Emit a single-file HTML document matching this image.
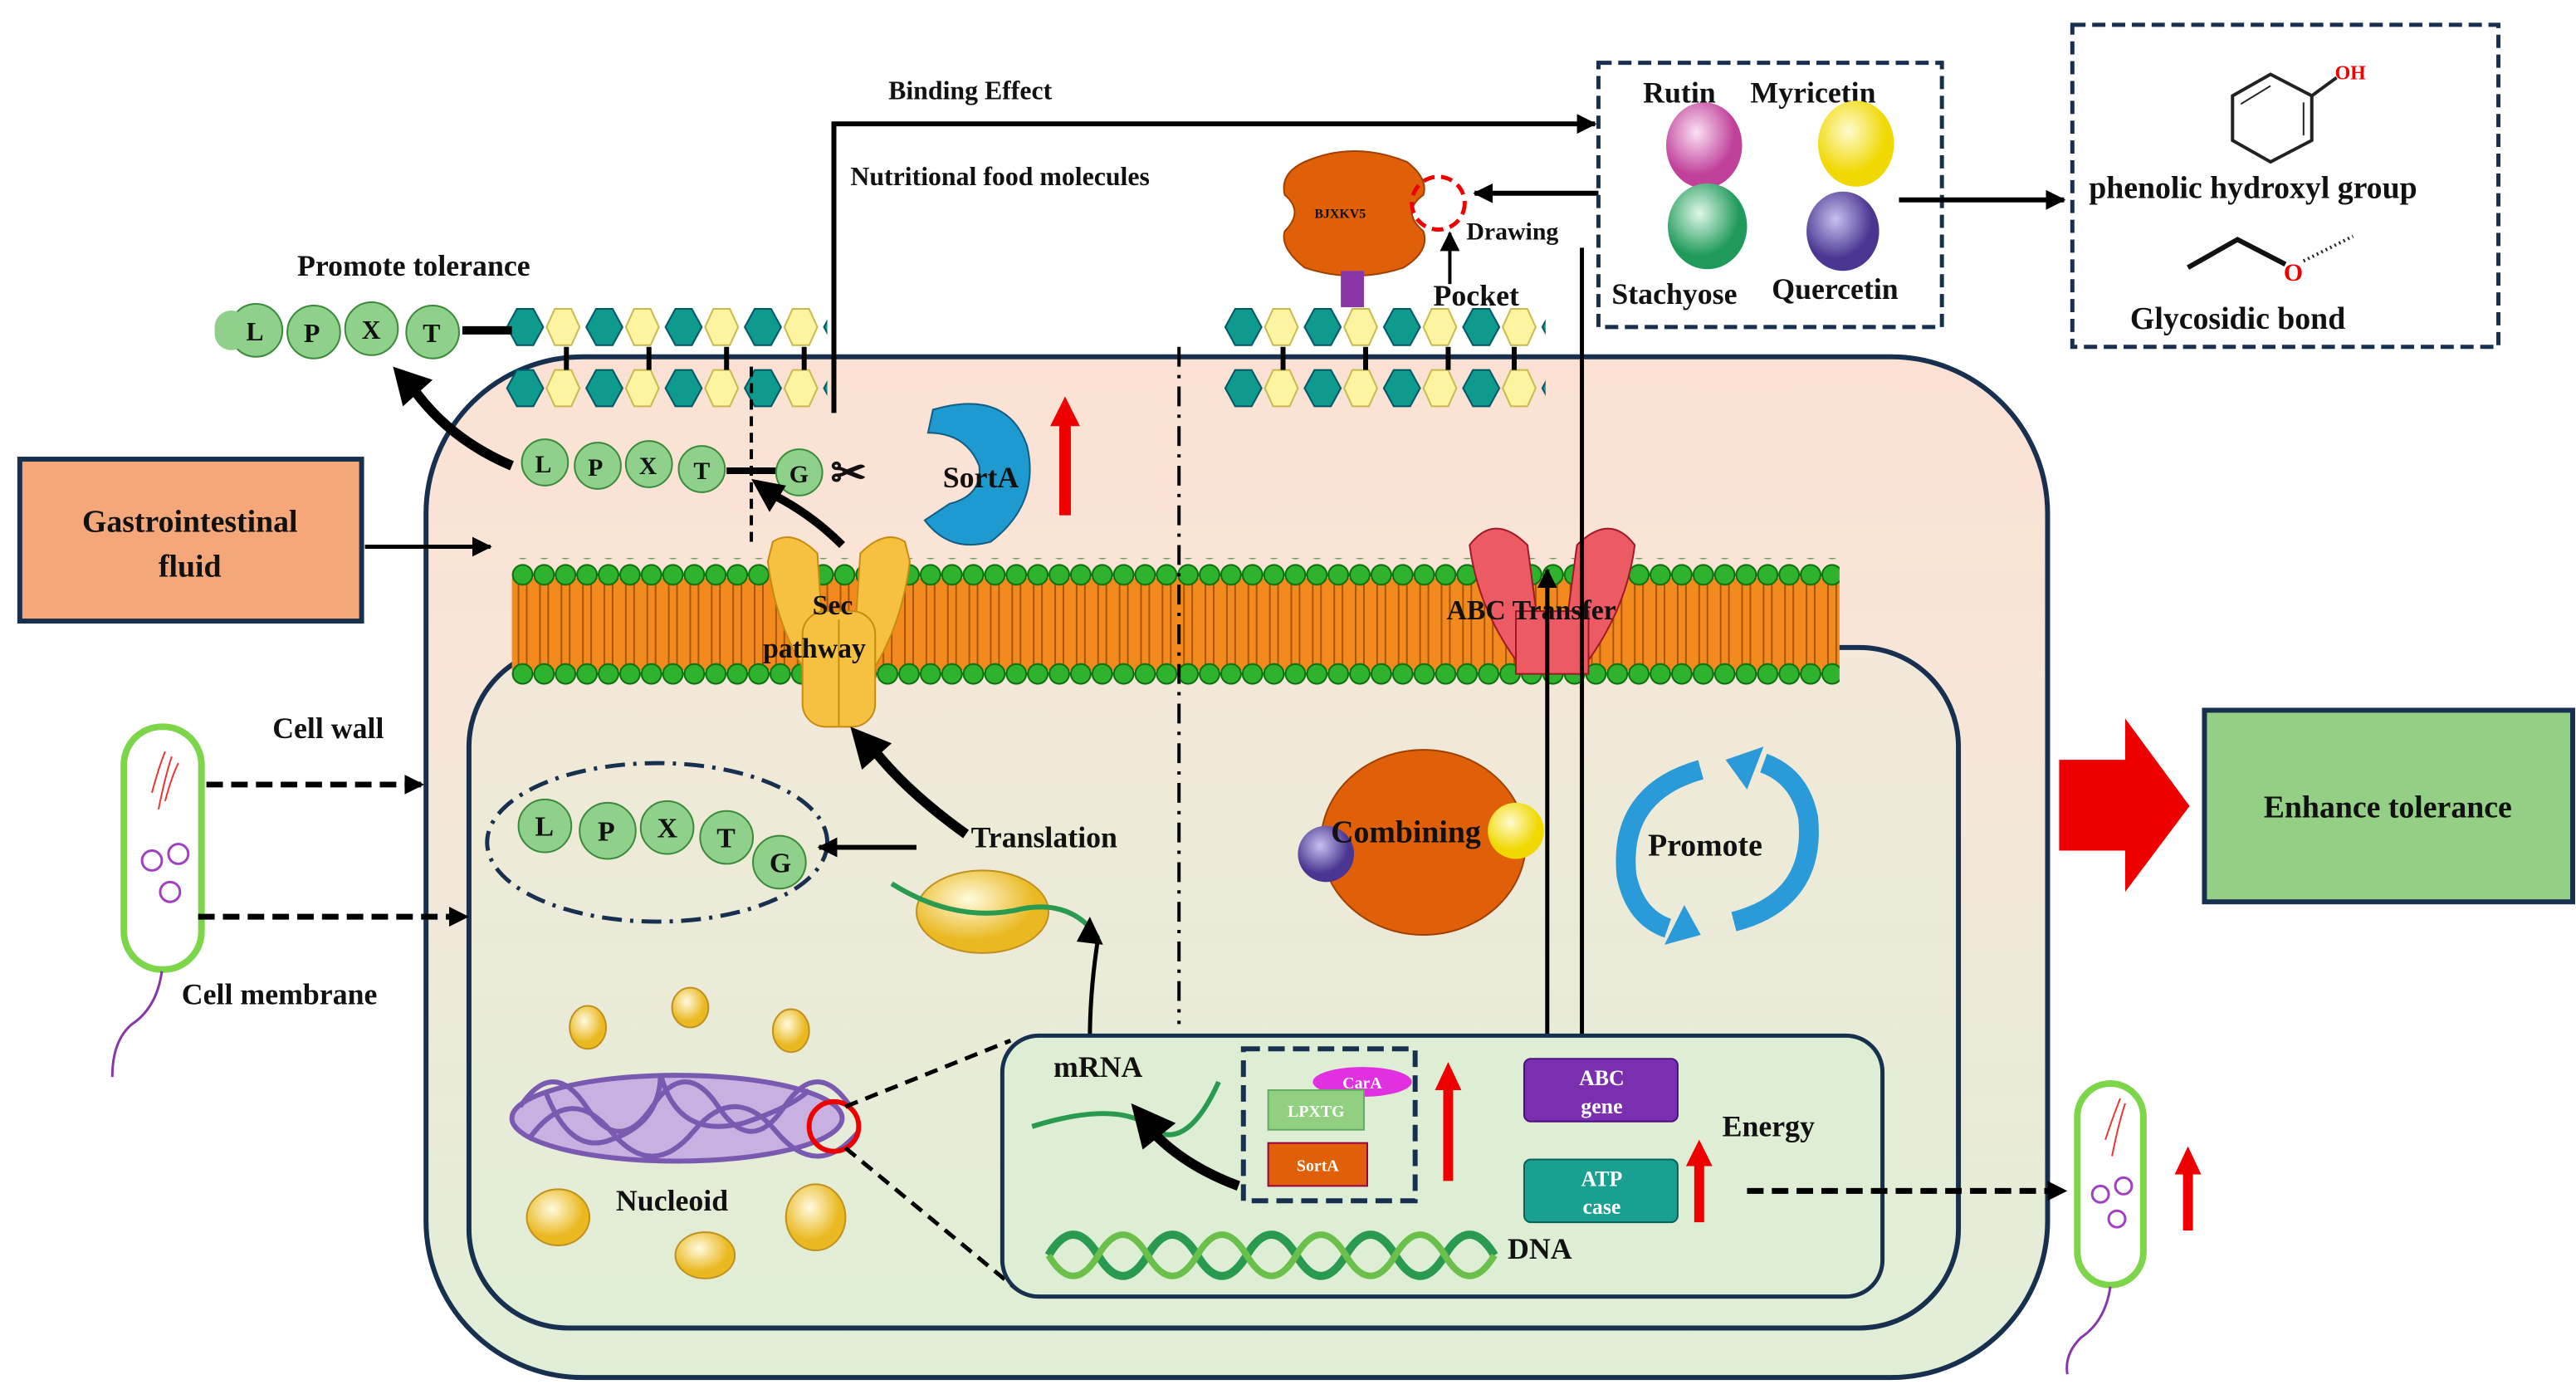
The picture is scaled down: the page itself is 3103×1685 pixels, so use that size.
<!DOCTYPE html>
<html><head><meta charset="utf-8"><style>
html,body{margin:0;padding:0;background:#fff}
svg{display:block}
text{font-family:"Liberation Serif",serif;font-weight:bold;fill:#111}
</style></head><body>
<svg width="3103" height="1685" viewBox="0 0 1560 847" preserveAspectRatio="none" xmlns="http://www.w3.org/2000/svg">
<defs>
<linearGradient id="cell" x1="0" y1="0" x2="0" y2="1">
<stop offset="0" stop-color="#fbe1d4"/><stop offset="0.35" stop-color="#f7e6d8"/><stop offset="1" stop-color="#e1eed7"/></linearGradient>
<linearGradient id="inner" x1="0" y1="0" x2="0" y2="1">
<stop offset="0" stop-color="#f3e8d9"/><stop offset="1" stop-color="#e0eed6"/></linearGradient>
<pattern id="lipid" x="310" y="340" width="13" height="76" patternUnits="userSpaceOnUse">
<rect x="0" y="10" width="13" height="56" fill="#f28a1e"/>
<line x1="4" y1="12" x2="4" y2="64" stroke="#a85500" stroke-width="1"/>
<line x1="9" y1="12" x2="9" y2="64" stroke="#a85500" stroke-width="1"/>
<circle cx="6.5" cy="8" r="6" fill="#2fb32f" stroke="#0b6e0b" stroke-width="1"/>
<circle cx="6.5" cy="68" r="6" fill="#2fb32f" stroke="#0b6e0b" stroke-width="1"/>
</pattern>
<g id="hexunit">
<polygon points="2,13 8,2 18,2 24,13 18,24 8,24" fill="#0f9a8e" stroke="#056" stroke-width="1"/>
<polygon points="26,13 31,2 41,2 46,13 41,24 31,24" fill="#fdf3a0" stroke="#c9b84a" stroke-width="1"/>
</g>
<pattern id="hexA" x="305" y="185" width="48" height="26" patternUnits="userSpaceOnUse"><use href="#hexunit"/></pattern>
<pattern id="hexB" x="305" y="222" width="48" height="26" patternUnits="userSpaceOnUse"><use href="#hexunit"/></pattern>
<pattern id="hexC" x="740" y="185" width="48" height="26" patternUnits="userSpaceOnUse"><use href="#hexunit"/></pattern>
<pattern id="hexD" x="740" y="222" width="48" height="26" patternUnits="userSpaceOnUse"><use href="#hexunit"/></pattern>
<marker id="ah" markerUnits="userSpaceOnUse" markerWidth="12" markerHeight="12" refX="11" refY="6" orient="auto"><path d="M0,0 L12,6 L0,12 z" fill="#000"/></marker>
<radialGradient id="pink" cx="0.4" cy="0.35"><stop offset="0" stop-color="#fbe0f4"/><stop offset="1" stop-color="#c0409a"/></radialGradient>
<radialGradient id="yel" cx="0.4" cy="0.35"><stop offset="0" stop-color="#fffbd0"/><stop offset="1" stop-color="#f0d800"/></radialGradient>
<radialGradient id="grn" cx="0.4" cy="0.35"><stop offset="0" stop-color="#e0f8e8"/><stop offset="1" stop-color="#1f9a5a"/></radialGradient>
<radialGradient id="pur" cx="0.4" cy="0.35"><stop offset="0" stop-color="#c8c0f0"/><stop offset="1" stop-color="#4a3590"/></radialGradient>
<radialGradient id="gold" cx="0.4" cy="0.35"><stop offset="0" stop-color="#fffbe0"/><stop offset="1" stop-color="#eab820"/></radialGradient>
</defs>

<rect x="258" y="216" width="982" height="618" rx="95" fill="url(#cell)" stroke="#17304f" stroke-width="3"/>
<rect x="284" y="392" width="902" height="412" rx="60" fill="url(#inner)" stroke="#17304f" stroke-width="3"/>

<rect x="305" y="185" width="196" height="26" fill="url(#hexA)"/>
<rect x="305" y="222" width="196" height="26" fill="url(#hexB)"/>
<rect x="740" y="185" width="196" height="26" fill="url(#hexC)"/>
<rect x="740" y="222" width="196" height="26" fill="url(#hexD)"/>
<g stroke="#000" stroke-width="3">
<line x1="343" y1="210" x2="343" y2="224"/><line x1="393" y1="210" x2="393" y2="224"/><line x1="440" y1="210" x2="440" y2="224"/><line x1="487" y1="210" x2="487" y2="224"/>
<line x1="777" y1="210" x2="777" y2="224"/><line x1="827" y1="210" x2="827" y2="224"/><line x1="877" y1="210" x2="877" y2="224"/><line x1="917" y1="210" x2="917" y2="224"/>
</g>

<rect x="310" y="338" width="804" height="78" fill="url(#lipid)"/>

<line x1="714" y1="210" x2="714" y2="620" stroke="#000" stroke-width="2" stroke-dasharray="12,5,2,5"/>

<g font-size="16">
<line x1="280" y1="200" x2="310" y2="200" stroke="#000" stroke-width="5"/>
<circle cx="155" cy="200" r="16" fill="#8fd08a" stroke="#3a8a3a"/><text x="149" y="206" fill="#fff">L</text>
<circle cx="190" cy="201" r="16" fill="#8fd08a" stroke="#3a8a3a"/><text x="184" y="207" fill="#fff">P</text>
<circle cx="225" cy="199" r="16" fill="#8fd08a" stroke="#3a8a3a"/><text x="219" y="205" fill="#fff">X</text>
<circle cx="262" cy="201" r="16" fill="#8fd08a" stroke="#3a8a3a"/><text x="256" y="207" fill="#fff">T</text>
</g>
<rect x="130" y="188" width="20" height="24" rx="10" fill="#8fd08a"/>
<text x="180" y="167" font-size="18">Promote tolerance</text>

<g font-size="15">
<circle cx="330" cy="280" r="14" fill="#8fd08a" stroke="#3a8a3a"/><text x="324" y="286" fill="#fff">L</text>
<circle cx="362" cy="282" r="14" fill="#8fd08a" stroke="#3a8a3a"/><text x="356" y="288" fill="#fff">P</text>
<circle cx="393" cy="281" r="14" fill="#8fd08a" stroke="#3a8a3a"/><text x="387" y="287" fill="#fff">X</text>
<circle cx="425" cy="284" r="14" fill="#8fd08a" stroke="#3a8a3a"/><text x="420" y="290" fill="#fff">T</text>
<line x1="440" y1="285" x2="470" y2="285" stroke="#000" stroke-width="4"/>
<circle cx="484" cy="286" r="14" fill="#8fd08a" stroke="#3a8a3a"/><text x="478" y="292" fill="#fff">G</text>
</g>
<line x1="455" y1="222" x2="455" y2="330" stroke="#000" stroke-width="2" stroke-dasharray="6,4"/>
<text x="503" y="295" font-size="26" font-weight="normal">✂</text>
<path d="M310,282 Q270,265 248,232" fill="none" stroke="#000" stroke-width="6"/>
<polygon points="238,222 262,230 244,246" fill="#000"/>
<path d="M510,330 Q490,310 465,298" fill="none" stroke="#000" stroke-width="5"/>
<polygon points="455,290 476,294 466,310" fill="#000"/>

<path d="M565,248 Q610,235 622,270 Q630,305 600,328 Q575,335 560,315 L575,305 Q595,300 593,282 Q585,262 562,262 Z" fill="#1e9ad0" stroke="#105e84"/>
<text x="571" y="295" font-size="18">SortA</text>
<line x1="645" y1="312" x2="645" y2="255" stroke="#e00" stroke-width="7"/>
<polygon points="636,258 654,258 645,240" fill="#e00"/>

<polyline points="505,250 505,75 966,75" fill="none" stroke="#000" stroke-width="3" marker-end="url(#ah)"/>
<text x="538" y="60" font-size="16">Binding Effect</text>
<text x="515" y="112" font-size="16">Nutritional  food molecules</text>

<rect x="12" y="278" width="207" height="98" fill="#f5a77a" stroke="#17304f" stroke-width="3"/>
<text x="115" y="322" font-size="19" text-anchor="middle">Gastrointestinal</text>
<text x="115" y="349" font-size="19" text-anchor="middle">fluid</text>
<line x1="221" y1="331" x2="297" y2="331" stroke="#000" stroke-width="2.5" marker-end="url(#ah)"/>

<path d="M468,328 Q480,320 495,335 L500,410 L490,410 Q470,380 465,340 Z" fill="#f6c040" stroke="#c88a10"/>
<path d="M548,328 Q536,320 521,335 L516,410 L526,410 Q546,380 551,340 Z" fill="#f6c040" stroke="#c88a10"/>
<rect x="486" y="370" width="44" height="70" rx="14" fill="#f6c040" stroke="#c88a10"/>
<line x1="508" y1="375" x2="508" y2="440" stroke="#c88a10"/>
<text x="492" y="372" font-size="17">Sec</text>
<text x="462" y="398" font-size="17">pathway</text>

<path d="M890,330 Q905,310 925,330 L935,405 L922,405 Q895,370 890,330 Z" fill="#ec5a63" stroke="#a01828"/>
<path d="M990,330 Q975,310 955,330 L945,405 L958,405 Q985,370 990,330 Z" fill="#ec5a63" stroke="#a01828"/>
<rect x="918" y="370" width="44" height="38" fill="#ec5a63" stroke="#a01828"/>
<text x="876" y="375" font-size="17">ABC Transfer</text>

<line x1="937" y1="640" x2="937" y2="345" stroke="#000" stroke-width="2.5" marker-end="url(#ah)"/>
<line x1="958" y1="150" x2="958" y2="638" stroke="#000" stroke-width="2.5" marker-end="url(#ah)"/>

<path d="M790,98 Q820,85 852,98 Q865,108 862,118 Q848,128 862,140 Q866,152 850,162 Q820,172 790,162 Q775,150 778,140 Q790,128 778,118 Q775,105 790,98 Z" fill="#e0600a" stroke="#a04000"/>
<text x="796" y="132" font-size="8" fill="#fff">BJXKV5</text>
<circle cx="871" cy="123" r="16" fill="none" stroke="#e00" stroke-width="2.5" stroke-dasharray="7,4"/>
<rect x="812" y="164" width="14" height="22" fill="#8a35a8"/>
<line x1="1003" y1="117" x2="893" y2="117" stroke="#000" stroke-width="3" marker-end="url(#ah)"/>
<line x1="878" y1="172" x2="878" y2="141" stroke="#000" stroke-width="2" marker-end="url(#ah)"/>
<text x="888" y="145" font-size="15">Drawing</text>
<text x="868" y="185" font-size="18">Pocket</text>

<rect x="968" y="38" width="208" height="160" fill="#fff" stroke="#17304f" stroke-width="2.5" stroke-dasharray="8,4"/>
<text x="995" y="62" font-size="18">Rutin</text>
<text x="1060" y="62" font-size="18">Myricetin</text>
<ellipse cx="1032" cy="88" rx="23" ry="26" fill="url(#pink)"/>
<ellipse cx="1124" cy="87" rx="23" ry="26" fill="url(#yel)"/>
<ellipse cx="1034" cy="137" rx="24" ry="26" fill="url(#grn)"/>
<ellipse cx="1116" cy="140" rx="22" ry="24" fill="url(#pur)"/>
<text x="976" y="184" font-size="18">Stachyose</text>
<text x="1073" y="181" font-size="18">Quercetin</text>
<line x1="1150" y1="121" x2="1250" y2="121" stroke="#000" stroke-width="3" marker-end="url(#ah)"/>

<rect x="1255" y="15" width="258" height="195" fill="#fff" stroke="#17304f" stroke-width="2.5" stroke-dasharray="8,4"/>
<polygon points="1375,45 1400,58 1400,85 1375,98 1352,85 1352,58" fill="none" stroke="#222" stroke-width="2"/>
<line x1="1357" y1="63" x2="1375" y2="52" stroke="#222"/><line x1="1395" y1="62" x2="1395" y2="82" stroke="#222"/>
<line x1="1400" y1="58" x2="1415" y2="47" stroke="#222" stroke-width="2"/>
<text x="1414" y="48" font-size="12" font-weight="normal" style="fill:#e00">OH</text>
<text x="1265" y="120" font-size="19">phenolic hydroxyl group</text>
<polyline points="1325,162 1355,145 1384,160" fill="none" stroke="#111" stroke-width="3"/>
<text x="1383" y="170" font-size="15" font-weight="normal" style="fill:#e00">O</text>
<line x1="1395" y1="158" x2="1425" y2="143" stroke="#222" stroke-width="2" stroke-dasharray="1,2"/>
<text x="1290" y="199" font-size="19">Glycosidic bond</text>

<polygon points="1247,460 1287,460 1287,435 1326,488 1287,540 1287,515 1247,515" fill="#ee0000"/>
<rect x="1335" y="430" width="223" height="116" fill="#93cf84" stroke="#17304f" stroke-width="3"/>
<text x="1446" y="495" font-size="19" text-anchor="middle">Enhance tolerance</text>

<rect x="75" y="440" width="47" height="147" rx="23" fill="#fff" stroke="#7dd64a" stroke-width="4"/>
<path d="M92,480 Q96,465 100,455 M96,490 Q100,470 104,458 M100,485 Q104,470 108,462" stroke="#e33" fill="none"/>
<circle cx="92" cy="521" r="6" fill="none" stroke="#a040c0" stroke-width="1.5"/><circle cx="108" cy="517" r="6" fill="none" stroke="#a040c0" stroke-width="1.5"/><circle cx="103" cy="540" r="6" fill="none" stroke="#a040c0" stroke-width="1.5"/>
<path d="M98,588 Q95,610 80,620 Q68,630 68,652" fill="none" stroke="#8a35a8" stroke-width="1.5"/>
<text x="165" y="447" font-size="18">Cell wall</text>
<text x="110" y="608" font-size="18">Cell membrane</text>
<line x1="125" y1="475" x2="256" y2="475" stroke="#000" stroke-width="3.5" stroke-dasharray="10,5" marker-end="url(#ah)"/>
<line x1="120" y1="555" x2="283" y2="555" stroke="#000" stroke-width="3.5" stroke-dasharray="10,5" marker-end="url(#ah)"/>

<ellipse cx="398" cy="510" rx="103" ry="48" fill="none" stroke="#17304f" stroke-width="2.5" stroke-dasharray="12,5,2,5"/>
<g font-size="17">
<circle cx="330" cy="500" r="16" fill="#8fd08a" stroke="#3a8a3a"/><text x="324" y="506" fill="#fff">L</text>
<circle cx="368" cy="503" r="17" fill="#8fd08a" stroke="#3a8a3a"/><text x="362" y="509" fill="#fff">P</text>
<circle cx="404" cy="501" r="16" fill="#8fd08a" stroke="#3a8a3a"/><text x="398" y="507" fill="#fff">X</text>
<circle cx="440" cy="507" r="16" fill="#8fd08a" stroke="#3a8a3a"/><text x="434" y="513" fill="#fff">T</text>
<circle cx="472" cy="522" r="16" fill="#8fd08a" stroke="#3a8a3a"/><text x="466" y="528" fill="#fff">G</text>
</g>
<line x1="555" y1="513" x2="496" y2="513" stroke="#000" stroke-width="3" marker-end="url(#ah)"/>
<text x="588" y="513" font-size="18">Translation</text>
<path d="M585,505 Q550,480 530,455" fill="none" stroke="#000" stroke-width="6"/>
<polygon points="515,440 540,450 522,466" fill="#000"/>

<ellipse cx="595" cy="552" rx="40" ry="25" fill="url(#gold)" stroke="#c09020"/>
<path d="M540,535 Q580,560 620,550 Q650,545 665,568" fill="none" stroke="#2a9a50" stroke-width="3"/>
<path d="M665,568 Q660,600 660,630" fill="none" stroke="#000" stroke-width="2.5"/>
<polygon points="652,570 660,555 668,572" fill="#000"/>

<ellipse cx="862" cy="510" rx="62" ry="56" fill="#e0600a" stroke="#a04000"/>
<circle cx="803" cy="517" r="17" fill="url(#pur)"/>
<circle cx="918" cy="503" r="17" fill="url(#yel)"/>
<text x="806" y="510" font-size="19">Combining</text>

<path d="M1030,466 Q980,480 985,530 Q990,555 1010,562" fill="none" stroke="#2a9ad8" stroke-width="12"/>
<polygon points="1020,548 1030,566 1008,572" fill="#2a9ad8"/>
<path d="M1050,558 Q1100,545 1095,495 Q1090,470 1068,462" fill="none" stroke="#2a9ad8" stroke-width="12"/>
<polygon points="1058,478 1045,460 1068,452" fill="#2a9ad8"/>
<text x="998" y="518" font-size="19">Promote</text>

<g fill="url(#gold)" stroke="#c09020">
<ellipse cx="356" cy="622" rx="11" ry="13"/><ellipse cx="418" cy="610" rx="11" ry="12"/><ellipse cx="479" cy="624" rx="11" ry="13"/>
<ellipse cx="338" cy="737" rx="19" ry="17"/><ellipse cx="494" cy="737" rx="18" ry="20"/><ellipse cx="427" cy="760" rx="18" ry="14"/>
</g>
<g fill="none" stroke="#7a5ab0" stroke-width="3">
<ellipse cx="410" cy="677" rx="100" ry="26" fill="#c8b0e0"/>
<path d="M315,670 q20,-30 40,0 q20,30 40,0 q20,-30 40,0 q20,30 40,0 q20,-30 40,0"/>
<path d="M320,690 q25,-35 50,-5 q25,30 50,0 q25,-30 50,0 q25,30 50,0"/>
<path d="M330,660 q15,40 40,30 q30,-10 30,-40 q10,40 50,30 q30,-10 40,-20"/>
</g>
<circle cx="505" cy="682" r="15" fill="none" stroke="#e00" stroke-width="3"/>
<text x="373" y="733" font-size="18">Nucleoid</text>
<line x1="512" y1="670" x2="612" y2="630" stroke="#000" stroke-width="2.5" stroke-dasharray="8,5"/>
<line x1="512" y1="695" x2="615" y2="780" stroke="#000" stroke-width="2.5" stroke-dasharray="8,5"/>

<rect x="607" y="627" width="533" height="158" rx="22" fill="#ddeed4" stroke="#17304f" stroke-width="2.5"/>
<text x="638" y="652" font-size="18">mRNA</text>
<path d="M625,682 Q680,665 700,685 Q720,695 738,655" fill="none" stroke="#2a9a50" stroke-width="3"/>
<path d="M750,718 Q715,705 695,682" fill="none" stroke="#000" stroke-width="6"/>
<polygon points="685,668 712,680 692,696" fill="#000"/>
<rect x="753" y="635" width="104" height="92" fill="none" stroke="#17304f" stroke-width="3" stroke-dasharray="10,5"/>
<ellipse cx="825" cy="655" rx="30" ry="9" fill="#e030e0"/><text x="825" y="659" font-size="10" text-anchor="middle" font-weight="normal" style="fill:#fff">CarA</text>
<rect x="768" y="660" width="58" height="24" fill="#90d080" stroke="#6a6"/><text x="797" y="676" font-size="10" text-anchor="middle" font-weight="normal" style="fill:#fff">LPXTG</text>
<rect x="768" y="692" width="60" height="26" fill="#e0600a" stroke="#904"/><text x="798" y="709" font-size="10" text-anchor="middle" font-weight="normal" style="fill:#fff">SortA</text>
<line x1="877" y1="715" x2="877" y2="658" stroke="#e00" stroke-width="6"/><polygon points="869,660 885,660 877,643" fill="#e00"/>
<path d="M635,760 q15,-25 30,0 q15,25 30,0 q15,-25 30,0 q15,25 30,0 q15,-25 30,0 q15,25 30,0 q15,-25 30,0 q15,25 30,0 q15,-25 30,0" fill="none" stroke="#2a9a50" stroke-width="5"/>
<path d="M635,760 q15,25 30,0 q15,-25 30,0 q15,25 30,0 q15,-25 30,0 q15,25 30,0 q15,-25 30,0 q15,25 30,0 q15,-25 30,0 q15,25 30,0" fill="none" stroke="#6ac04a" stroke-width="4"/>
<text x="913" y="762" font-size="18">DNA</text>
<rect x="923" y="641" width="93" height="38" rx="4" fill="#7a2fb0" stroke="#4a1080"/>
<text x="970" y="657" font-size="13" text-anchor="middle" style="fill:#fff">ABC</text><text x="970" y="674" font-size="13" text-anchor="middle" style="fill:#fff">gene</text>
<rect x="923" y="702" width="93" height="38" rx="4" fill="#1aa090" stroke="#0a6058"/>
<text x="970" y="718" font-size="13" text-anchor="middle" style="fill:#fff">ATP</text><text x="970" y="735" font-size="13" text-anchor="middle" style="fill:#fff">case</text>
<line x1="1029" y1="740" x2="1029" y2="705" stroke="#e00" stroke-width="6"/><polygon points="1021,706 1037,706 1029,690" fill="#e00"/>
<text x="1043" y="688" font-size="18">Energy</text>
<line x1="1058" y1="721" x2="1251" y2="721" stroke="#000" stroke-width="3.5" stroke-dasharray="10,5" marker-end="url(#ah)"/>

<rect x="1258" y="656" width="40" height="122" rx="20" fill="#fff" stroke="#7dd64a" stroke-width="4"/>
<path d="M1275,690 Q1280,675 1284,665 M1279,700 Q1283,680 1287,668" stroke="#e33" fill="none"/>
<circle cx="1272" cy="723" r="5" fill="none" stroke="#a040c0" stroke-width="1.5"/><circle cx="1286" cy="718" r="5" fill="none" stroke="#a040c0" stroke-width="1.5"/><circle cx="1282" cy="738" r="5" fill="none" stroke="#a040c0" stroke-width="1.5"/>
<path d="M1278,779 Q1275,800 1260,810 Q1250,820 1252,832" fill="none" stroke="#8a35a8" stroke-width="1.5"/>
<line x1="1325" y1="745" x2="1325" y2="710" stroke="#e00" stroke-width="6"/><polygon points="1317,711 1333,711 1325,694" fill="#e00"/>
</svg>
</body></html>
